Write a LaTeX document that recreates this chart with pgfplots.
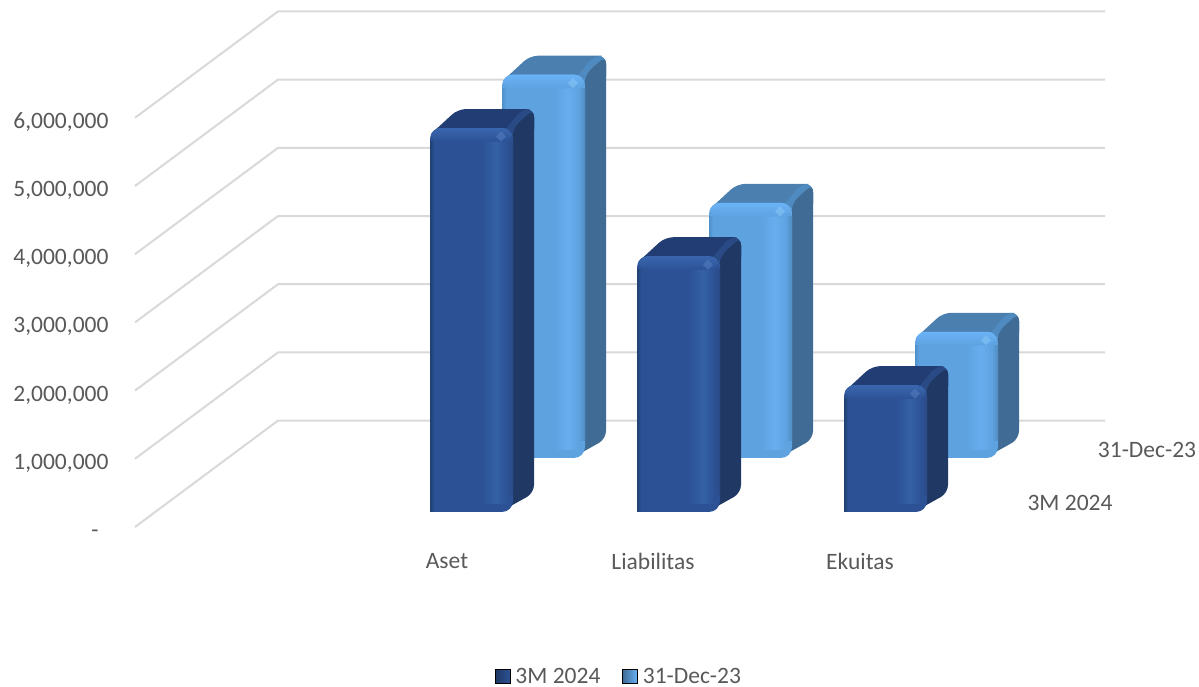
\documentclass[border=0pt]{standalone}
\usepackage{fontspec}
\setmainfont{Carlito}
\usepackage{pgfplots}
\pgfplotsset{compat=1.18}

\definecolor{txt}{HTML}{595959}
\definecolor{gridc}{HTML}{D9D9D9}
\definecolor{dkside}{HTML}{1F3864}
\definecolor{dktop}{HTML}{223D73}
\definecolor{dkedge}{HTML}{2A4A85}
\definecolor{dkbody}{HTML}{2C5295}
\definecolor{dkhigh}{HTML}{3561A6}
\definecolor{dkbevel}{HTML}{3A66AE}
\definecolor{dkspot}{HTML}{5A82C4}
\definecolor{dkleft}{HTML}{20406F}
\definecolor{ltside}{HTML}{3F6B94}
\definecolor{lttop}{HTML}{4A7FB0}
\definecolor{ltedge}{HTML}{4F8BC0}
\definecolor{ltbody}{HTML}{5EA2E0}
\definecolor{lthigh}{HTML}{68AEEF}
\definecolor{ltbevel}{HTML}{6AB3F6}
\definecolor{ltspot}{HTML}{8CCBFA}
\definecolor{ltleft}{HTML}{4F90C8}

% #1 = left edge in px, #2 = base, #3 = value (millions), #4 = colour prefix
\newcommand{\threedbar}[4]{%
  \pgfmathsetmacro{\xa}{#1}%
  \pgfmathsetmacro{\xb}{#1+83}%
  \pgfmathsetmacro{\xc}{#1+104}%
  \pgfmathsetmacro{\yb}{#2}%
  \pgfmathsetmacro{\yt}{#2+#3}%
  \pgfmathsetmacro{\ybd}{#2+0.2786}%
  \pgfmathsetmacro{\ytd}{#2+#3+0.2786}%
  \pgfmathsetmacro{\ybev}{#2+#3-0.13}%
  \pgfmathsetmacro{\ylow}{#2+#3-0.10}%
  \pgfmathsetmacro{\xl}{#1+28}%
  \pgfmathsetmacro{\xm}{#1+70}%
  \pgfmathsetmacro{\xn}{#1+92}%
  \pgfmathsetmacro{\xs}{#1+71}%
  \pgfmathsetmacro{\xsa}{#1+66}%
  \pgfmathsetmacro{\xsb}{#1+76}%
  \pgfmathsetmacro{\ysa}{#2+#3-0.05}%
  \pgfmathsetmacro{\ysb}{#2+#3-0.20}%
  \pgfmathsetmacro{\ysm}{#2+#3-0.125}%
  \pgfmathsetmacro{\xe}{#1+4}%
  \pgfmathsetmacro{\xf}{#1+52}%
  \pgfmathsetmacro{\xg}{#1+66}%
  \pgfmathsetmacro{\xh}{#1+77}%
  \pgfmathsetmacro{\xi}{#1+1}%
  \pgfmathsetmacro{\xj}{#1+82}%
  \pgfmathsetmacro{\xk}{#1+40}%
  \pgfmathsetmacro{\ystrip}{#2+0.12}%
  \pgfmathsetmacro{\yfoot}{#2+0.25}%
  \pgfmathsetmacro{\ysc}{#2+#3-0.12}%
  \pgfmathsetmacro{\ysd}{#2+#3-0.20}%
  \edef\temp{%
    \noexpand\addplot[forget plot, draw=none, fill=#4top, rounded corners=8pt] coordinates
      {(\xa,\ylow) (\xl,\ytd) (\xc,\ytd) (\xc,\ybev) (\xb,\ybev)} --cycle;
    \noexpand\addplot[forget plot, draw=none, fill=#4edge, rounded corners=8pt] coordinates
      {(\xs,\ylow) (\xn,\ytd) (\xc,\ytd) (\xc,\ybev) (\xb,\ybev)} --cycle;
    \noexpand\addplot[forget plot, draw=none, fill=#4side, rounded corners=8pt] coordinates
      {(\xm,\yb) (\xc,\ybd) (\xc,\ysb) (\xc,\ytd) (\xb,\yt)} --cycle;
    \noexpand\addplot[forget plot, draw=none, fill=#4body, rounded corners=11pt] coordinates
      {(\xa,\yb) (\xb,\yb) (\xb,\yt) (\xa,\yt)} --cycle;
    \noexpand\addplot[forget plot, draw=none, fill=#4body] coordinates
      {(\xa,\yb) (\xk,\yb) (\xk,\yfoot) (\xa,\yfoot)} --cycle;
    \noexpand\addplot[forget plot, draw=none, left color=#4left, right color=#4body] coordinates
      {(\xa,\yb) (\xe,\yb) (\xe,\ysd) (\xa,\ysd)} --cycle;
    \noexpand\addplot[forget plot, draw=none, left color=#4body, right color=#4high] coordinates
      {(\xf,\ystrip) (\xg,\ystrip) (\xg,\ysc) (\xf,\ysc)} --cycle;
    \noexpand\addplot[forget plot, draw=none, left color=#4high, right color=#4body] coordinates
      {(\xg,\ystrip) (\xh,\ystrip) (\xh,\ysc) (\xg,\ysc)} --cycle;
    \noexpand\addplot[forget plot, draw=none, left color=#4body, right color=#4edge] coordinates
      {(\xh,\yfoot) (\xb,\yfoot) (\xb,\ysd) (\xh,\ysd)} --cycle;
    \noexpand\addplot[forget plot, draw=none, top color=#4bevel, bottom color=#4body, rounded corners=9pt] coordinates
      {(\xi,\ysd) (\xj,\ysd) (\xj,\yt) (\xi,\yt)} --cycle;
    \noexpand\addplot[forget plot, draw=none, fill=#4spot, opacity=.5] coordinates
      {(\xsa,\ysm) (\xs,\ysa) (\xsb,\ysm) (\xs,\ysb)} --cycle;
  }\temp
}

\begin{document}
\begin{tikzpicture}
\path[use as bounding box] (0,0) rectangle (1199pt,686pt);
\begin{axis}[
  at={(135pt,159pt)},
  scale only axis,
  width=970pt, height=516pt,
  xmin=135, xmax=1105, ymin=0, ymax=7.566,
  clip=false,
  axis line style={draw=none},
  major tick length=0pt,
  xtick={447,653,860},
  xticklabels={Aset,Liabilitas,Ekuitas},
  ytick={0,1,2,3,4,5,6},
  yticklabels={-\kern10pt,{1,000,000},{2,000,000},{3,000,000},{4,000,000},{5,000,000},{6,000,000}},
  tick label style={font=\fontsize{23.5}{28}\selectfont, text=txt},
  xticklabel style={yshift=-23pt},
  yticklabel style={xshift=-23pt, yshift=-3pt, text height=15pt, text depth=0pt},
  legend columns=2,
  legend cell align=left,
  legend style={
    at={(0.499,-0.290)}, anchor=center,
    draw=none, fill=none, inner sep=0pt,
    font=\fontsize{23.5}{28}\selectfont, text=txt,
    /tikz/every odd column/.append style={column sep=3pt},
    /tikz/every even column/.append style={column sep=20pt},
  },
]
% wall and floor lines, front end / corner / back end
\addplot[forget plot, gridc, line width=2pt] coordinates {(135,0) (278,1.56) (1105,1.56)};
\addplot[forget plot, gridc, line width=2pt] coordinates {(135,1) (278,2.56) (1105,2.56)};
\addplot[forget plot, gridc, line width=2pt] coordinates {(135,2) (278,3.56) (1105,3.56)};
\addplot[forget plot, gridc, line width=2pt] coordinates {(135,3) (278,4.56) (1105,4.56)};
\addplot[forget plot, gridc, line width=2pt] coordinates {(135,4) (278,5.56) (1105,5.56)};
\addplot[forget plot, gridc, line width=2pt] coordinates {(135,5) (278,6.56) (1105,6.56)};
\addplot[forget plot, gridc, line width=2pt] coordinates {(135,6) (278,7.56) (1105,7.56)};

% back row 31-Dec-23
\threedbar{502}{1.012}{5.62}{lt}
\threedbar{709}{1.012}{3.74}{lt}
\threedbar{915}{1.012}{1.85}{lt}
% front row 3M 2024
\threedbar{430}{0.22}{5.63}{dk}
\threedbar{637}{0.22}{3.75}{dk}
\threedbar{844}{0.22}{1.86}{dk}

\addlegendimage{legend image code/.code={\shade[left color=dkside, right color=dkbody] (0pt,-7pt) rectangle (15pt,7pt);}}
\addlegendentry{3M 2024}
\addlegendimage{legend image code/.code={\shade[left color=ltside, right color=ltbevel] (0pt,-7pt) rectangle (15pt,7pt);}}
\addlegendentry{31-Dec-23}

\node[text=txt, font=\fontsize{23.5}{28}\selectfont] at (axis cs:1070,0.352) {3M 2024};
\node[text=txt, font=\fontsize{23.5}{28}\selectfont] at (axis cs:1147,1.129) {31-Dec-23};
\end{axis}
\end{tikzpicture}
\end{document}
